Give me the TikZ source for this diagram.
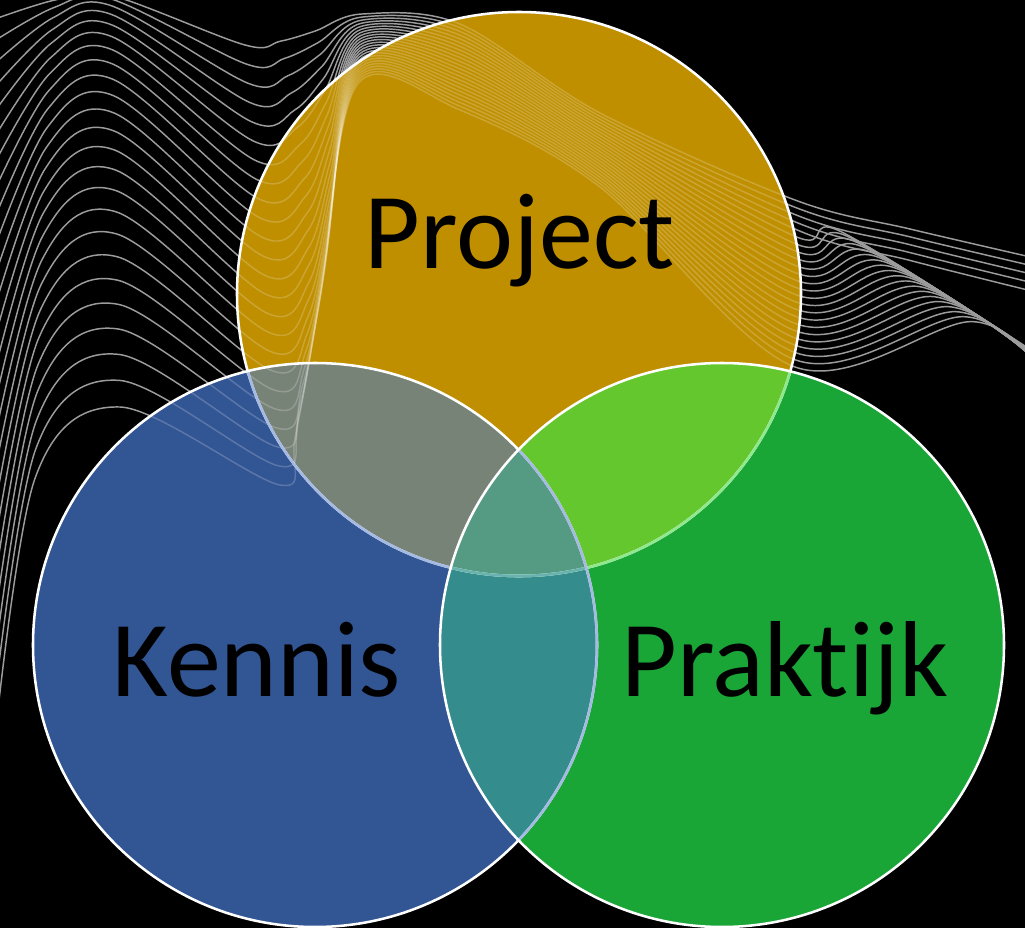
\documentclass[tikz,border=0pt]{standalone}
\usepackage{fontspec}
\setmainfont{Carlito}[Ligatures=NoCommon]
\definecolor{projcol}{HTML}{BF8F00}
\definecolor{kencol}{HTML}{325594}
\definecolor{prakcol}{HTML}{1AA537}
\definecolor{pkcol}{HTML}{788378}
\definecolor{ppcol}{HTML}{65C72E}
\definecolor{kpcol}{HTML}{348C8D}
\definecolor{allcol}{HTML}{559A82}
\definecolor{wavegray}{HTML}{9C9C9C}
\definecolor{rimblue}{HTML}{A4B9E3}
\definecolor{rimgreen}{HTML}{8EE88E}
\definecolor{rimteal}{HTML}{6AB2B2}

% family of wavy background lines; #1 = drawing options
\newcommand{\wavefamily}[1]{%
 \foreach \i in {0,...,23}{%
  \pgfmathsetmacro\t{\i/23}%
  \pgfmathsetmacro\ya{20+22*\i+0.45*\i*\i}%
  \pgfmathsetmacro\yb{-5+412*\t*sqrt(\t)}%
  \pgfmathsetmacro\xa{55-20*\t}%
  \pgfmathsetmacro\yaa{\yb+0.2*(\ya-\yb)}%
  \pgfmathsetmacro\xb{110+10*\t}%
  \pgfmathsetmacro\xc{245+35*\t}%
  \pgfmathsetmacro\yc{45+440*\t}%
  \pgfmathsetmacro\xe{362-5*\t}%
  \pgfmathsetmacro\ye{14+71*\t}%
  \pgfmathsetmacro\yd{\yc-0.45*(\yc-\ye)}%
  \pgfmathsetmacro\xd{(1-\t)*(\xc+0.6*(\xe-\xc))+\t*(352-0.15*(\yd-85))}%
  \pgfmathsetmacro\ydd{\yc-0.12*(\yc-\ye)}%
  \pgfmathsetmacro\xdd{(1-\t)*(\xc+0.3*(\xe-\xc))+\t*(348-0.15*(\ydd-85))}%
  \pgfmathsetmacro\yf{24+86*\t}%
  \pgfmathsetmacro\yg{113+74*\t}%
  \pgfmathsetmacro\yh{200+167*\t}%
  \ifnum\i<5
    \pgfmathsetmacro\yend{258+35*\t/0.18}%
    \pgfmathsetmacro\xk{910}%
    \pgfmathsetmacro\yk{\yh+0.5*(\yend-\yh)}%
  \else
    \pgfmathsetmacro\yend{350+12*\t}%
    \pgfmathsetmacro\xk{835+135*(\t-0.18)/0.82}%
    \pgfmathsetmacro\yk{203+0.698*(\xk-800)}%
  \fi
  \draw[#1] plot[smooth,tension=0.55] coordinates {(-8,\ya) (\xa,\yaa) (\xb,\yb)
     (\xc,\yc) (\xdd,\ydd) (\xd,\yd) (\xe,\ye) (460,\yf) (600,\yg) (795,\yh)
     (\xk,\yk) (1035,\yend)};
 }}

\begin{document}
\begin{tikzpicture}[x=0.75pt,y=-0.75pt,
  wave/.style={draw=wavegray,line width=1.1pt},
  rim/.style={line width=1.9pt},
  caption/.style={font=\fontsize{81}{90}\selectfont,text=black,anchor=base,inner sep=0pt}]
\useasboundingbox (0,0) rectangle (1025,928);
\clip (0,0) rectangle (1025,928);
\fill[black] (0,0) rectangle (1025,928);

\coordinate (cP) at (519,294);
\coordinate (cK) at (315,645);
\coordinate (cR) at (722,645);

% background lines
\wavefamily{wave}

% circle fills
\fill[projcol] (cP) circle[radius=282];
\fill[kencol] (cK) circle[radius=282];
\fill[prakcol] (cR) circle[radius=282];
\begin{scope}
  \clip (cP) circle[radius=282];
  \fill[pkcol] (cK) circle[radius=282];
  \fill[ppcol] (cR) circle[radius=282];
\end{scope}
\begin{scope}
  \clip (cK) circle[radius=282];
  \fill[kpcol] (cR) circle[radius=282];
  \clip (cP) circle[radius=282];
  \fill[allcol] (cR) circle[radius=282];
\end{scope}

% lines seen through the translucent circles
\begin{scope}
  \clip (cP) circle[radius=282] (cK) circle[radius=282];
  \wavefamily{draw=white,draw opacity=0.2,line width=1.1pt}
\end{scope}

% outlines
\draw[rim,white] (cP) circle[radius=282];
\begin{scope}
  \clip (cK) circle[radius=282];
  \draw[rim,rimblue] (cP) circle[radius=282];
\end{scope}
\begin{scope}
  \clip (cR) circle[radius=282];
  \draw[rim,rimgreen] (cP) circle[radius=282];
  \clip (cK) circle[radius=282];
  \draw[rim,rimteal] (cP) circle[radius=282];
\end{scope}
\draw[rim,white] (cK) circle[radius=282];
\begin{scope}
  \clip (cR) circle[radius=282];
  \draw[rim,rimblue] (cK) circle[radius=282];
\end{scope}
\draw[rim,white] (cR) circle[radius=282];

% labels
\node[caption] (tP) at (520,268) {Project};
\node[caption] (tK) at (257,696) {Kennis};
\node[caption] (tR) at (785,696) {Praktijk};
\end{tikzpicture}
\end{document}
